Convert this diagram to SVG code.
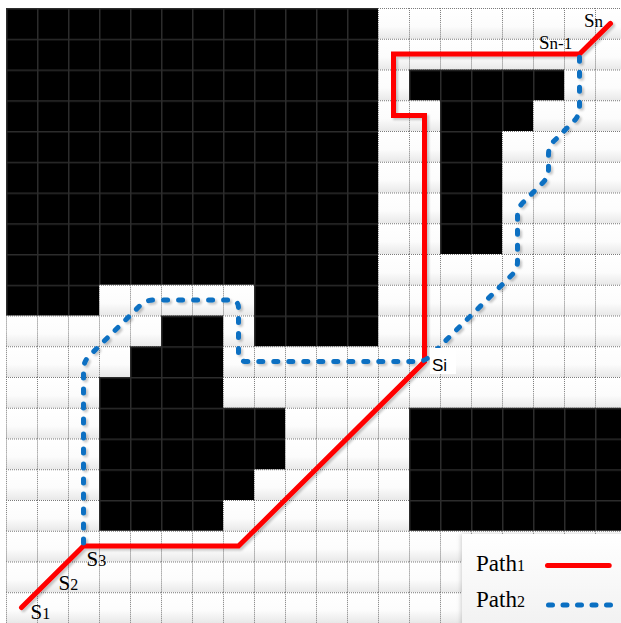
<svg xmlns="http://www.w3.org/2000/svg" width="621" height="623" viewBox="0 0 621 623">
<defs>
<style>
.red{stroke:#ff0000;stroke-width:5;fill:none;stroke-linecap:round;stroke-linejoin:miter}
.blue{stroke:#0a6fc2;stroke-width:5;fill:none;stroke-linecap:round;stroke-linejoin:round;stroke-dasharray:4 11}
.lbl{font-family:"Liberation Serif","Times New Roman",serif;fill:#000}
.sans{font-family:"Liberation Sans",Arial,sans-serif;fill:#000}
.obst{fill:url(#bgrid)}
</style>
<linearGradient id="cellg" x1="0" y1="0" x2="0" y2="1">
<stop offset="0" stop-color="#ffffff"/>
<stop offset="0.6" stop-color="#fcfcfc"/>
<stop offset="1" stop-color="#e8e8e8"/>
</linearGradient>
<linearGradient id="legg" x1="0" y1="0" x2="0" y2="1">
<stop offset="0" stop-color="#ffffff"/>
<stop offset="1" stop-color="#f1f1f1"/>
</linearGradient>
<pattern id="wgrid" patternUnits="userSpaceOnUse" x="6" y="8" width="31" height="30.75">
<rect width="31" height="30.75" fill="url(#cellg)"/>
<path d="M0.5 0V30.75M0 0.5H31" stroke="#7a7a7a" stroke-width="1" stroke-dasharray="1 1" fill="none"/>
</pattern>
<pattern id="bgrid" patternUnits="userSpaceOnUse" x="6" y="8" width="31" height="30.75">
<rect width="31" height="30.75" fill="#000"/>
<path d="M0.75 0V30.75M0 0.75H31" stroke="#2c2c2c" stroke-width="1.5" fill="none"/>
</pattern>
<filter id="sh" x="-10%" y="-10%" width="130%" height="130%">
<feDropShadow dx="2" dy="2" stdDeviation="1.2" flood-color="#000" flood-opacity="0.22"/>
</filter>
<filter id="lsh" x="-10%" y="-10%" width="130%" height="130%">
<feDropShadow dx="-1" dy="0" stdDeviation="2" flood-color="#000" flood-opacity="0.18"/>
</filter>
</defs>

<rect width="621" height="623" fill="#ffffff"/>
<g id="grid">
<rect x="6" y="8" width="620" height="615" fill="url(#wgrid)"/>
</g>

<g id="obstacles">
<polygon id="obstacle-A" class="obst" points="6,8 378,8 378,346.25 254,346.25 254,284.75 99,284.75 99,315.5 6,315.5"/>
<polygon id="obstacle-B" class="obst" points="161,315.5 223,315.5 223,407.75 285,407.75 285,469.25 254,469.25 254,500 223,500 223,530.75 99,530.75 99,377 130,377 130,346.25 161,346.25"/>
<polygon id="obstacle-T" class="obst" points="409,69.5 564,69.5 564,100.25 533,100.25 533,131 502,131 502,254 440,254 440,100.25 409,100.25"/>
<polygon id="obstacle-D" class="obst" points="409,407.75 626,407.75 626,530.75 409,530.75"/>
</g>

<g id="connectors" filter="url(#sh)">
<path id="path1" class="red" d="M21.5 607.6 L83.5 546.1 L238.5 546.1 L424.5 361.6 L424.5 115.6 L393.5 115.6 L393.5 54.1 L579.5 54.1 L610.5 23.4"/>
<path id="path2" class="blue" d="M83.5 543 V369.6 Q83.5 361.6 89.2 355.9 L139.8 305.8 Q145.5 300.1 153.5 300.1 H230.5 Q238.5 300.1 238.5 308.1 V353.6 Q238.5 361.6 246.5 361.6 H416.5 Q424.5 361.6 430.2 356 L511.8 275 Q517.5 269.4 517.5 261.4 V215.9 Q517.5 207.9 523.2 202.3 L542.8 182.7 Q548.5 177.1 548.5 169.1 V154.4 Q548.5 146.4 554.2 140.8 L573.8 121.2 Q579.5 115.6 579.5 107.6 V57"/>
</g>

<g id="label-S1"><text class="lbl" x="30.5" y="618.5"><tspan font-size="21">S</tspan><tspan font-size="16">1</tspan></text></g>
<g id="label-S2"><text class="lbl" x="58.5" y="589.5"><tspan font-size="21">S</tspan><tspan font-size="16">2</tspan></text></g>
<g id="label-S3"><text class="lbl" x="86.5" y="565.5"><tspan font-size="21">S</tspan><tspan font-size="16">3</tspan></text></g>
<g id="label-Si">
<rect x="430" y="348" width="26" height="26" fill="#ffffff"/>
<text class="sans" x="432" y="370.5" font-size="17">Si</text>
</g>
<g id="label-Sn-1"><text class="lbl" x="539" y="49"><tspan font-size="19">S</tspan><tspan font-size="17">n-1</tspan></text></g>
<g id="label-Sn"><text class="lbl" x="584" y="27"><tspan font-size="19">S</tspan><tspan font-size="17">n</tspan></text></g>

<g id="legend">
<rect x="462" y="534" width="165" height="95" fill="url(#legg)" filter="url(#lsh)"/>
<text class="lbl" x="476" y="570.5"><tspan font-size="23">Path</tspan><tspan font-size="16">1</tspan></text>
<text class="lbl" x="476" y="607"><tspan font-size="23">Path</tspan><tspan font-size="16">2</tspan></text>
<line class="red" x1="547.5" y1="565.5" x2="609.2" y2="565.5"/>
<line class="blue" x1="548.5" y1="605" x2="612" y2="605" style="stroke-dasharray:4 10.5"/>
</g>
</svg>
